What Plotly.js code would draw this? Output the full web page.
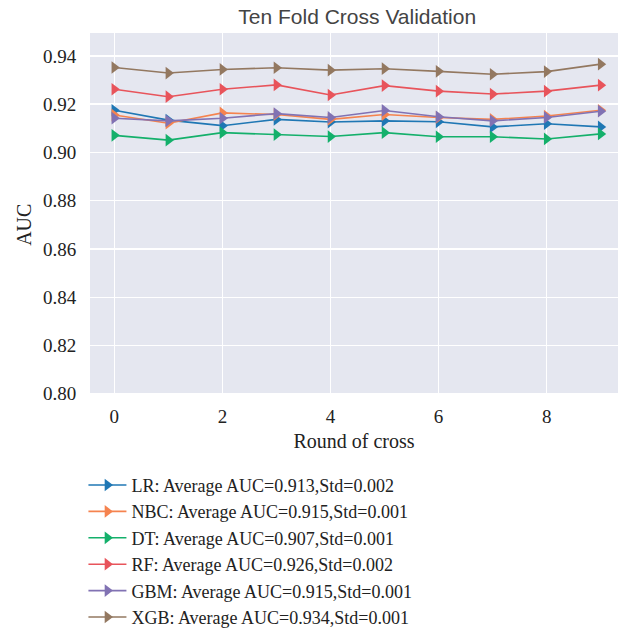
<!DOCTYPE html>
<html><head><meta charset="utf-8">
<script src="https://cdn.plot.ly/plotly-3.0.1.min.js"></script>
<style>html,body{margin:0;padding:0;background:#fff;}#chart{width:618px;height:636px;}</style>
</head><body><div id="chart"></div>
<script>
const rounds = [0,1,2,3,4,5,6,7,8,9];
const seriesNames = [
  "LR: Average AUC=0.913,Std=0.002",
  "NBC: Average AUC=0.915,Std=0.001",
  "DT: Average AUC=0.907,Std=0.001",
  "RF: Average AUC=0.926,Std=0.002",
  "GBM: Average AUC=0.915,Std=0.001",
  "XGB: Average AUC=0.934,Std=0.001"
];
const lrAUC  = [0.9175,0.9134,0.9111,0.9137,0.9126,0.9131,0.9127,0.9106,0.9119,0.9106];
const nbcAUC = [0.9155,0.9121,0.9164,0.9157,0.9137,0.9157,0.9145,0.9137,0.9151,0.9175];
const dtAUC  = [0.9071,0.9051,0.9082,0.9074,0.9066,0.9082,0.9065,0.9065,0.9056,0.9077];
const rfAUC  = [0.9262,0.9231,0.9262,0.9280,0.9238,0.9277,0.9254,0.9242,0.9254,0.9279];
const gbmAUC = [0.9142,0.9131,0.9142,0.9161,0.9145,0.9174,0.9148,0.9131,0.9145,0.9171];
const xgbAUC = [0.9352,0.9329,0.9344,0.9351,0.9341,0.9347,0.9336,0.9324,0.9335,0.9366];
const yTicks = [0.80,0.82,0.84,0.86,0.88,0.90,0.92,0.94];
const xTicks = [0,2,4,6,8];
const yTitle = "AUC";

const allValues = [lrAUC,nbcAUC,dtAUC,rfAUC,gbmAUC,xgbAUC];
const colors = ["#1f77b4","#f5834f","#14b06b","#e8545b","#8172b3","#937860"];
const serif = "Liberation Serif, Times New Roman, serif";

const traces = allValues.map((v,i)=>({
  x: rounds, y: v, name: seriesNames[i], type: "scatter", mode: "lines+markers",
  line: {color: colors[i], width: 1.6},
  marker: {symbol: "triangle-right", size: 11, color: colors[i]}
}));

const layout = {
  width: 618, height: 636,
  margin: {l: 90, r: 0, t: 33, b: 241, autoexpand: false},
  paper_bgcolor: "#ffffff",
  plot_bgcolor: "#e5e7f0",
  title: {text: "Ten Fold Cross Validation", x: 0.578, xanchor: "center", y: 0.986, yanchor: "top",
          font: {family: "Liberation Sans, Arial, sans-serif", size: 21, color: "#444"}},
  xaxis: {range: [-0.45, 9.32], tickvals: xTicks, ticktext: xTicks.map(String), automargin: true,
          showgrid: true, gridcolor: "#ffffff", gridwidth: 1.5, zeroline: false, showline: false,
          ticks: "outside", ticklen: 4, tickcolor: "rgba(0,0,0,0)",
          tickfont: {family: serif, size: 19, color: "#222"},
          title: {text: "Round of cross", font: {family: serif, size: 20, color: "#222"}, standoff: 8}},
  yaxis: {range: [0.7995, 0.9495], tickvals: yTicks, ticktext: yTicks.map(v=>v.toFixed(2)), automargin: true,
          showgrid: true, gridcolor: "#ffffff", gridwidth: 1.5, zeroline: false, showline: false,
          ticks: "outside", ticklen: 9, tickcolor: "rgba(0,0,0,0)",
          tickfont: {family: serif, size: 19, color: "#222"}},
  annotations: [{text: yTitle, xref: "paper", yref: "paper", x: -0.125, y: 0.47,
                 xanchor: "center", yanchor: "middle", textangle: -90, showarrow: false,
                 font: {family: serif, size: 20, color: "#222"}}],
  showlegend: true,
  legend: {x: 0.135, xref: "container", xanchor: "left", y: 0.266, yref: "container", yanchor: "top",
           orientation: "v",
           font: {family: serif, size: 18, color: "#222"}, bgcolor: "rgba(0,0,0,0)",
           tracegroupgap: 0, itemwidth: 38}
};

Plotly.newPlot("chart", traces, layout, {displayModeBar: false, staticPlot: true});
</script>
</body></html>
